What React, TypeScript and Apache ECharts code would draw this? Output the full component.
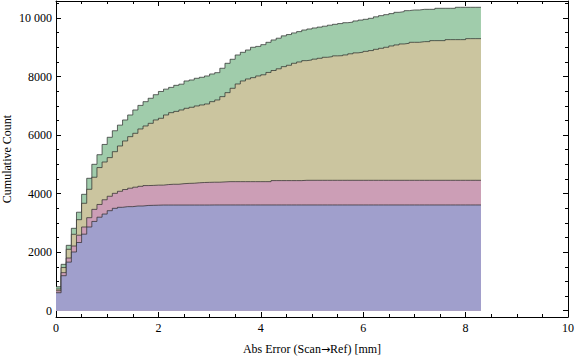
import React, { useEffect, useRef } from "react";
import * as echarts from "echarts";

// Cumulative counts per 0.1 mm bin (bins start at 0.0, 0.1, ... 8.2).
// Each array is the top boundary of one layer of the stacked cumulative histogram.
const blueTop = [
  615, 1196, 1660, 2006, 2330, 2615, 2860, 3050, 3195, 3302,
  3417, 3498, 3532, 3555, 3555, 3577, 3577, 3595, 3600, 3605,
  3610, 3610, 3610, 3610, 3610, 3610, 3610, 3610, 3610, 3610,
  3612, 3612, 3612, 3612, 3612, 3612, 3612, 3612, 3612, 3612,
  3612, 3612, 3612, 3612, 3612, 3612, 3612, 3612, 3612, 3612,
  3612, 3612, 3612, 3612, 3612, 3612, 3612, 3612, 3612, 3612,
  3612, 3612, 3612, 3612, 3612, 3612, 3612, 3612, 3612, 3612,
  3612, 3612, 3612, 3612, 3612, 3612, 3612, 3612, 3612, 3612,
  3612, 3612, 3612,
];
const pinkTop = [
  683, 1300, 1800, 2210, 2580, 2860, 3178, 3463, 3630, 3790,
  3910, 4010, 4080, 4140, 4185, 4220, 4250, 4275, 4280, 4290,
  4290, 4310, 4320, 4320, 4340, 4350, 4355, 4370, 4380, 4385,
  4390, 4390, 4400, 4410, 4410, 4410, 4410, 4410, 4410, 4410,
  4410, 4410, 4445, 4445, 4445, 4445, 4445, 4445, 4455, 4455,
  4455, 4455, 4455, 4455, 4455, 4455, 4455, 4455, 4455, 4455,
  4455, 4455, 4455, 4455, 4455, 4455, 4455, 4455, 4455, 4455,
  4455, 4455, 4455, 4455, 4455, 4455, 4455, 4455, 4455, 4455,
  4455, 4455, 4455,
];
const oliveTop = [
  741, 1475, 2098, 2610, 3110, 3670, 4148, 4560, 4890, 5080,
  5230, 5433, 5628, 5799, 5946, 6061, 6209, 6311, 6402, 6516,
  6574, 6687, 6766, 6810, 6858, 6915, 6950, 6995, 7029, 7063,
  7142, 7200, 7313, 7450, 7599, 7746, 7849, 7917, 7962, 8020,
  8060, 8140, 8207, 8265, 8338, 8385, 8453, 8497, 8543, 8567,
  8595, 8624, 8658, 8680, 8707, 8713, 8738, 8777, 8809, 8833,
  8861, 8887, 8930, 8965, 9000, 9045, 9080, 9113, 9137, 9170,
  9170, 9193, 9193, 9227, 9227, 9227, 9261, 9261, 9261, 9261,
  9295, 9295, 9295,
];
const greenTop = [
  820, 1585, 2234, 2815, 3365, 3977, 4524, 5002, 5330, 5680,
  5925, 6148, 6340, 6516, 6687, 6858, 7015, 7142, 7258, 7380,
  7490, 7570, 7630, 7700, 7740, 7849, 7883, 7941, 7975, 8020,
  8088, 8133, 8283, 8453, 8590, 8737, 8828, 8907, 9000, 9030,
  9090, 9170, 9250, 9310, 9390, 9435, 9490, 9535, 9590, 9625,
  9660, 9690, 9720, 9755, 9785, 9810, 9840, 9860, 9900, 9930,
  9956, 9990, 10040, 10081, 10115, 10150, 10195, 10218, 10252, 10275,
  10275, 10297, 10297, 10297, 10332, 10332, 10332, 10332, 10366, 10366,
  10366, 10366, 10366,
];

const binWidth = 0.1;
const xMajorTicks = [0, 2, 4, 6, 8, 10];
const xMinorTicks = [0.5, 1, 1.5, 2.5, 3, 3.5, 4.5, 5, 5.5, 6.5, 7, 7.5, 8.5, 9, 9.5];
const yMajorTicks = [0, 2000, 4000, 6000, 8000, 10000];
const yMinorTicks = [500, 1000, 1500, 2500, 3000, 3500, 4500, 5000, 5500, 6500, 7000, 7500, 8500, 9000, 9500, 10500];

const xTitleParts = ["Abs Error (Scan", "\u2192", "Ref) [mm]"];
const yTitle = "Cumulative Count";

const layerColors = ["#a0ccab", "#cbc59f", "#cc9eb6", "#a09fcc"];
const lineColor = "rgba(40,40,40,0.7)";
const FONT = "Liberation Serif";

function stepPoints(vals: number[]) {
  const pts: number[][] = vals.map((v, i) => [Math.round(i * binWidth * 10) / 10, v]);
  pts.push([Math.round(vals.length * binWidth * 10) / 10, vals[vals.length - 1]]);
  return pts;
}

export default function App() {
  const ref = useRef<HTMLDivElement>(null);
  useEffect(() => {
    if (!ref.current) return;
    const chart = echarts.init(ref.current, undefined, { renderer: "svg" });
    const X_MIN = 0, X_MAX = 10, Y_MIN = -215, Y_MAX = 10581;
    const frameLine = { show: true, onZero: false, lineStyle: { color: "#000", width: 1 } };
    const noLine = { show: false, onZero: false };
    const xBase = { type: "value", min: X_MIN, max: X_MAX, gridIndex: 0, offset: 0, splitLine: { show: false } };
    const yBase = { type: "value", min: Y_MIN, max: Y_MAX, gridIndex: 0, offset: 0, splitLine: { show: false } };
    const tick = (len: number, vals: number[]) => ({
      show: true, inside: true, length: len, customValues: vals, lineStyle: { color: "#000", width: 1 },
    });
    const layers = [
      { name: "d", data: greenTop, color: layerColors[0] },
      { name: "c", data: oliveTop, color: layerColors[1] },
      { name: "b", data: pinkTop, color: layerColors[2] },
      { name: "a", data: blueTop, color: layerColors[3] },
    ];
    chart.setOption({
      animation: false,
      grid: { left: 56, right: 8, top: 1, bottom: 40, containLabel: false, outerBoundsMode: "none" },
      xAxis: [
        {
          ...xBase,
          position: "bottom",
          axisLine: frameLine,
          axisTick: tick(5, xMajorTicks),
          axisLabel: { show: true, customValues: xMajorTicks, margin: 5, color: "#000", fontFamily: FONT, fontSize: 12 },
          name: `${xTitleParts[0]}{a|${xTitleParts[1]}}${xTitleParts[2]}`,
          nameLocation: "middle",
          nameGap: 26,
          nameMoveOverlap: false,
          nameTextStyle: {
            color: "#000", fontFamily: FONT, fontSize: 12,
            rich: { a: { fontFamily: "DejaVu Sans", fontSize: 11, color: "#000" } },
          },
        },
        { ...xBase, position: "bottom", axisLine: noLine, axisTick: tick(3, xMinorTicks), axisLabel: { show: false } },
        { ...xBase, position: "top", axisLine: frameLine, axisTick: tick(5, xMajorTicks), axisLabel: { show: false } },
        { ...xBase, position: "top", axisLine: noLine, axisTick: tick(3, xMinorTicks), axisLabel: { show: false } },
      ],
      yAxis: [
        {
          ...yBase,
          position: "left",
          axisLine: frameLine,
          axisTick: tick(5, yMajorTicks),
          axisLabel: {
            show: true,
            customValues: yMajorTicks,
            margin: 4,
            color: "#000",
            fontFamily: FONT,
            fontSize: 12,
            formatter: (v: number) => (v >= 10000 ? String(v).replace(/(\d)(?=(\d{3})+$)/g, "$1 ") : String(v)),
          },
          name: yTitle,
          nameLocation: "middle",
          nameRotate: 90,
          nameGap: 43,
          nameMoveOverlap: false,
          nameTextStyle: { color: "#000", fontFamily: FONT, fontSize: 12 },
        },
        { ...yBase, position: "left", axisLine: noLine, axisTick: tick(3, yMinorTicks), axisLabel: { show: false } },
        { ...yBase, position: "right", axisLine: frameLine, axisTick: tick(5, yMajorTicks), axisLabel: { show: false } },
        { ...yBase, position: "right", axisLine: noLine, axisTick: tick(3, yMinorTicks), axisLabel: { show: false } },
      ],
      series: layers.map((l, i) => ({
        name: l.name,
        type: "line",
        xAxisIndex: 0,
        yAxisIndex: 0,
        step: "end",
        showSymbol: false,
        symbol: "none",
        z: 2 + i,
        data: stepPoints(l.data),
        lineStyle: { color: lineColor, width: 1 },
        areaStyle: { color: l.color, opacity: 1 },
        silent: true,
      })),
    });
    return () => chart.dispose();
  }, []);
  return <div ref={ref} style={{ position: "absolute", left: 0, top: 0, width: 576, height: 357 }} />;
}
